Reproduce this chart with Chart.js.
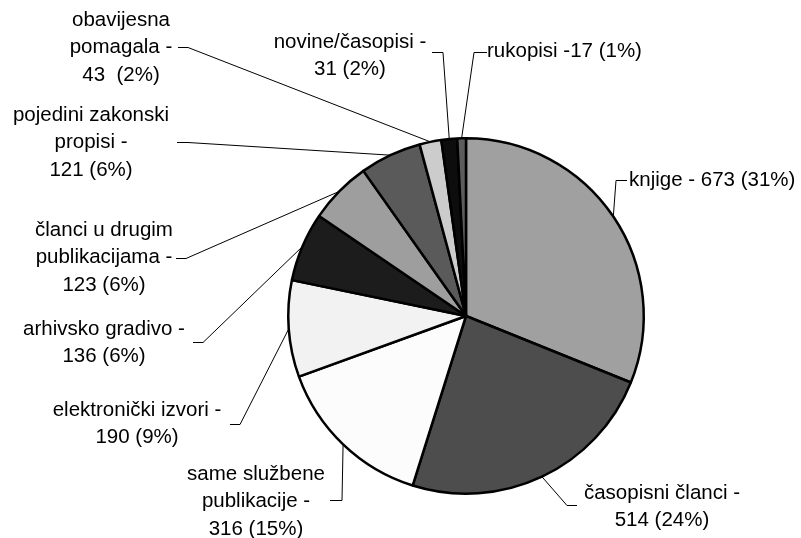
<!DOCTYPE html>
<html>
<head>
<meta charset="utf-8">
<script src="https://cdn.jsdelivr.net/npm/chart.js@4"></script>
<style>
	html, body { margin: 0; padding: 0; background: #fff; }
	canvas { display: block; }
</style>
</head>
<body>
<canvas id="pieChart" width="801" height="538"></canvas>
<script>
var categories = ['knjige', 'časopisni članci', 'same službene publikacije', 'elektronički izvori',
	'arhivsko gradivo', 'članci u drugim publikacijama', 'pojedini zakonski propisi',
	'obavijesna pomagala', 'novine/časopisi', 'rukopisi'];
var values = [673, 514, 316, 190, 136, 123, 121, 43, 31, 17];
var percents = ['31%', '24%', '15%', '9%', '6%', '6%', '6%', '2%', '2%', '1%'];
var labelLines = [
	['knjige - 673 (31%)'],
	['časopisni članci -', '514 (24%)'],
	['same službene', 'publikacije -', '316 (15%)'],
	['elektronički izvori -', '190 (9%)'],
	['arhivsko gradivo -', '136 (6%)'],
	['članci u drugim', 'publikacijama -', '123 (6%)'],
	['pojedini zakonski', 'propisi -', '121 (6%)'],
	['obavijesna', 'pomagala -', '43  (2%)'],
	['novine/časopisi -', '31 (2%)'],
	['rukopisi -17 (1%)']
];
var colors = ['#a0a0a0', '#4d4d4d', '#fcfcfc', '#f2f2f2', '#1c1c1c',
	'#9e9e9e', '#5a5a5a', '#cccccc', '#0d0d0d', '#5c5c5c'];

// where each label sits and the short tick that starts its leader line
var labelLayout = [
	{ x: 629, y: 180, align: 'left', tick: [627, 180, 616, 180] },
	{ x: 662, y: 493, align: 'center', tick: [577, 505, 567, 505] },
	{ x: 256, y: 474, align: 'center', tick: [330, 500, 342, 500] },
	{ x: 137, y: 410, align: 'center', tick: [230, 424, 240, 424] },
	{ x: 104, y: 329, align: 'center', tick: [193, 342, 203, 342] },
	{ x: 104, y: 230, align: 'center', tick: [176, 258, 186, 258] },
	{ x: 91, y: 115, align: 'center', tick: [177, 142, 188, 142] },
	{ x: 121, y: 20, align: 'center', tick: [178, 47, 188, 47] },
	{ x: 350, y: 42, align: 'center', tick: [432, 52, 443, 52] },
	{ x: 487, y: 51, align: 'left', tick: [487, 52, 474, 52] }
];

var pieLabels = {
	id: 'pieLabels',
	afterDraw: function(chart) {
		var ctx = chart.ctx;
		var arcs = chart.getDatasetMeta(0).data;
		ctx.save();
		ctx.font = '20.5px "Liberation Sans", Arial, sans-serif';
		ctx.fillStyle = '#000';
		ctx.textBaseline = 'middle';
		ctx.strokeStyle = '#000';
		ctx.lineWidth = 1;
		arcs.forEach(function(arc, i) {
			var lay = labelLayout[i];
			var p = arc.getProps(['x', 'y', 'startAngle', 'endAngle', 'outerRadius'], true);
			var a = (p.startAngle + p.endAngle) / 2;
			var px = p.x + Math.cos(a) * p.outerRadius;
			var py = p.y + Math.sin(a) * p.outerRadius;
			ctx.beginPath();
			ctx.moveTo(lay.tick[0], lay.tick[1] + 0.5);
			ctx.lineTo(lay.tick[2], lay.tick[3] + 0.5);
			ctx.lineTo(px, py);
			ctx.stroke();
			ctx.textAlign = lay.align;
			labelLines[i].forEach(function(line, j) {
				ctx.fillText(line, lay.x, lay.y + j * 27.5);
			});
		});
		ctx.restore();
	}
};

var chart = new Chart(document.getElementById('pieChart').getContext('2d'), {
	type: 'pie',
	data: {
		labels: categories,
		datasets: [{
			data: values,
			backgroundColor: colors,
			borderColor: '#000',
			borderWidth: 2.5
		}]
	},
	options: {
		responsive: false,
		animation: false,
		layout: { padding: { left: 287, right: 156, top: 137, bottom: 43 } },
		plugins: {
			legend: { display: false },
			tooltip: { enabled: false }
		}
	},
	plugins: [pieLabels]
});
</script>
</body>
</html>
